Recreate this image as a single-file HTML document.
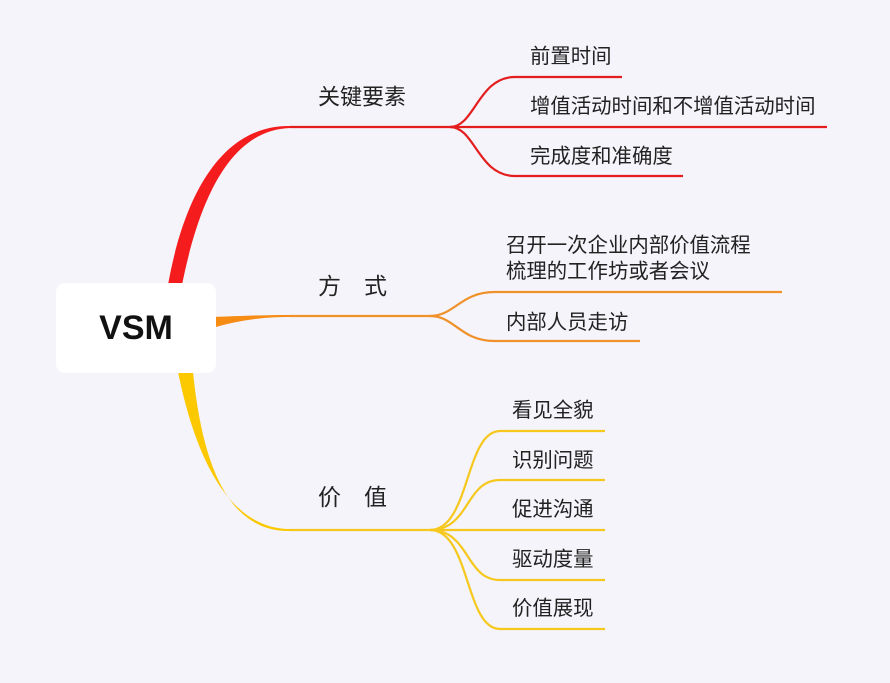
<!DOCTYPE html>
<html><head><meta charset="utf-8"><style>
body{margin:0;background:#f4f4fa;}
svg{display:block}
text{font-family:"Liberation Sans","Noto Sans CJK SC",sans-serif;fill:#222;font-size:20.4px;dominant-baseline:central}
</style></head><body>
<svg width="890" height="683" viewBox="0 0 890 683">
<rect width="890" height="683" fill="#f4f4fa"/>
<path d="M168,285 C184,195 222,125 290,126 L290,128 C228,130 198,205 182,285 Z" fill="#f41c1c"/>
<path d="M212,317 C240,316 262,315 290,315 L290,317 C262,317 240,320 212,328 Z" fill="#f78c15"/>
<path d="M178,372 C196,460 230,529 290,529 L290,531 C226,532 202,460 193,372 Z" fill="#fcc800"/>
<rect x="56" y="283" width="160" height="90" rx="9" fill="#fff"/>
<text x="136" y="328" text-anchor="middle" style="font-size:34px;font-weight:bold;fill:#111">VSM</text>
<g fill="none" stroke="#e41e1e" stroke-width="2.2">
<path d="M290,127 H450"/>
<path d="M450,127 C475,127 478,77 515,77 H622"/>
<path d="M450,127 H827"/>
<path d="M450,127 C475,127 478,176 515,176 H683"/>
</g>
<g fill="none" stroke="#f0912a" stroke-width="2.2">
<path d="M290,316 H430"/>
<path d="M430,316 C455,316 460,292 495,292 H782"/>
<path d="M430,316 C455,316 460,341 495,341 H640"/>
</g>
<g fill="none" stroke="#f6c81e" stroke-width="2.2">
<path d="M290,530 H430"/>
<path d="M430,530 C470,530 465,431 500,431 H605"/>
<path d="M430,530 C470,530 465,480 500,480 H605"/>
<path d="M430,530 H605"/>
<path d="M430,530 C470,530 465,580 500,580 H605"/>
<path d="M430,530 C470,530 465,629 500,629 H605"/>
</g>
<text x="318" y="97" style="font-size:22px">关键要素</text>
<text x="318" y="286" style="font-size:23px">方　式</text>
<text x="318" y="497" style="font-size:23px">价　值</text>
<text x="530" y="57">前置时间</text>
<text x="530" y="107">增值活动时间和不增值活动时间</text>
<text x="530" y="157">完成度和准确度</text>
<text x="506" y="246">召开一次企业内部价值流程</text>
<text x="506" y="272">梳理的工作坊或者会议</text>
<text x="506" y="323">内部人员走访</text>
<text x="512" y="411">看见全貌</text>
<text x="512" y="461">识别问题</text>
<text x="512" y="510">促进沟通</text>
<text x="512" y="560">驱动度量</text>
<text x="512" y="609">价值展现</text>
</svg>
</body></html>
